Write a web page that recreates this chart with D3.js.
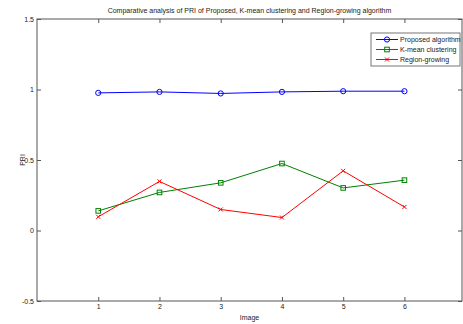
<!DOCTYPE html>
<html>
<head>
<meta charset="utf-8">
<script src="https://cdn.jsdelivr.net/npm/d3@7"></script>
<style>
  html, body { margin: 0; padding: 0; background: #fff; }
  svg { display: block; font-family: "Liberation Sans", Arial, sans-serif; }
</style>
</head>
<body>
<svg id="chart" width="463" height="324"></svg>
<script>
const images = [1, 2, 3, 4, 5, 6];
const proposed = [0.976, 0.983, 0.972, 0.983, 0.988, 0.988];
const kmean = [0.139, 0.270, 0.338, 0.475, 0.302, 0.357];
const region = [0.097, 0.348, 0.149, 0.092, 0.423, 0.167];
const xTicks = [1, 2, 3, 4, 5, 6];
const yTicks = [-0.5, 0, 0.5, 1, 1.5];
const yTickLabels = ["-0.5", "0", "0.5", "1", "1.5"];
const seriesNames = ["Proposed algorithm", "K-mean clustering", "Region-growing"];

(function () {
const svg = d3.select("#chart");
const pL = 37, pR = 462, pT = 19, pB = 301;
const x = d3.scaleLinear().domain([0, 7]).range([pL, pL + (pR - pL) * 7 / 6.94]);
const y = d3.scaleLinear().domain([-0.5, 1.5]).range([pB, pT]);

const axisColor = "#555";
const textColor = "#222";
const fs = 7;

// Frame
svg.append("rect").attr("x", pL).attr("y", pT)
  .attr("width", pR - pL).attr("height", pB - pT)
  .attr("fill", "none").attr("stroke", axisColor).attr("stroke-width", 1);

function styleAxis(g) {
  g.select(".domain").remove();
  g.selectAll("line").attr("stroke", axisColor);
  g.selectAll("text").attr("fill", textColor).attr("font-size", fs)
    .attr("font-family", "Liberation Sans, Arial, sans-serif");
}

svg.append("g").attr("transform", `translate(0,${pB})`)
  .call(d3.axisBottom(x).tickValues(xTicks).tickFormat(d3.format("d")).tickSizeInner(-4).tickSizeOuter(0).tickPadding(3))
  .call(styleAxis);
svg.append("g").attr("transform", `translate(0,${pT})`)
  .call(d3.axisTop(x).tickValues(xTicks).tickFormat("").tickSizeInner(-4).tickSizeOuter(0))
  .call(styleAxis);
svg.append("g").attr("transform", `translate(${pL},0)`)
  .call(d3.axisLeft(y).tickValues(yTicks).tickFormat((d, i) => yTickLabels[i]).tickSizeInner(-4).tickSizeOuter(0).tickPadding(3))
  .call(styleAxis);
svg.append("g").attr("transform", `translate(${pR},0)`)
  .call(d3.axisRight(y).tickValues(yTicks).tickFormat("").tickSizeInner(-4).tickSizeOuter(0))
  .call(styleAxis);

// Titles
svg.append("text").attr("x", (pL + pR) / 2).attr("y", 13)
  .attr("text-anchor", "middle").attr("font-size", fs).attr("fill", textColor)
  .text("Comparative analysis of PRI of Proposed, K-mean clustering and Region-growing algorithm");
svg.append("text").attr("x", (pL + pR) / 2).attr("y", 320)
  .attr("text-anchor", "middle").attr("font-size", fs).attr("fill", textColor)
  .text("Image");
svg.append("text").attr("transform", `translate(25,${y(0.5)}) rotate(-90)`)
  .attr("text-anchor", "middle").attr("font-size", fs).attr("fill", textColor)
  .text("PRI");

const series = [
  { name: seriesNames[0], values: proposed, color: "#0000ff", marker: "circle" },
  { name: seriesNames[1], values: kmean, color: "#008000", marker: "square" },
  { name: seriesNames[2], values: region, color: "#ff0000", marker: "x" }
];

const line = d3.line().x((d, i) => x(images[i])).y(d => y(d));

function drawMarker(g, type, color) {
  if (type === "circle") {
    g.append("circle").attr("r", 2.6).attr("fill", "none").attr("stroke", color).attr("stroke-width", 1);
  } else if (type === "square") {
    g.append("rect").attr("x", -2.3).attr("y", -2.3).attr("width", 4.6).attr("height", 4.6)
      .attr("fill", "none").attr("stroke", color).attr("stroke-width", 1);
  } else {
    g.append("path").attr("d", "M-2,-2L2,2M-2,2L2,-2").attr("stroke", color).attr("stroke-width", 1);
  }
}

series.forEach(s => {
  svg.append("path").datum(s.values).attr("d", line)
    .attr("fill", "none").attr("stroke", s.color).attr("stroke-width", 1);
  svg.selectAll(null).data(s.values).enter().append("g")
    .attr("transform", (d, i) => `translate(${x(images[i])},${y(d)})`)
    .each(function () { drawMarker(d3.select(this), s.marker, s.color); });
});

// Legend
const lg = svg.append("g");
lg.append("rect").attr("x", 371).attr("y", 33).attr("width", 89).attr("height", 33)
  .attr("fill", "#fff").attr("stroke", "#777").attr("stroke-width", 1);
series.forEach((s, i) => {
  const yy = 39.5 + i * 10;
  lg.append("line").attr("x1", 376).attr("x2", 398).attr("y1", yy).attr("y2", yy)
    .attr("stroke", s.color).attr("stroke-width", 1);
  const m = lg.append("g").attr("transform", `translate(387,${yy})`);
  drawMarker(m, s.marker, s.color);
  lg.append("text").attr("x", 400).attr("y", yy).attr("dy", "0.35em")
    .attr("font-size", fs).attr("fill", textColor).text(s.name);
});
})();
</script>
</body>
</html>
